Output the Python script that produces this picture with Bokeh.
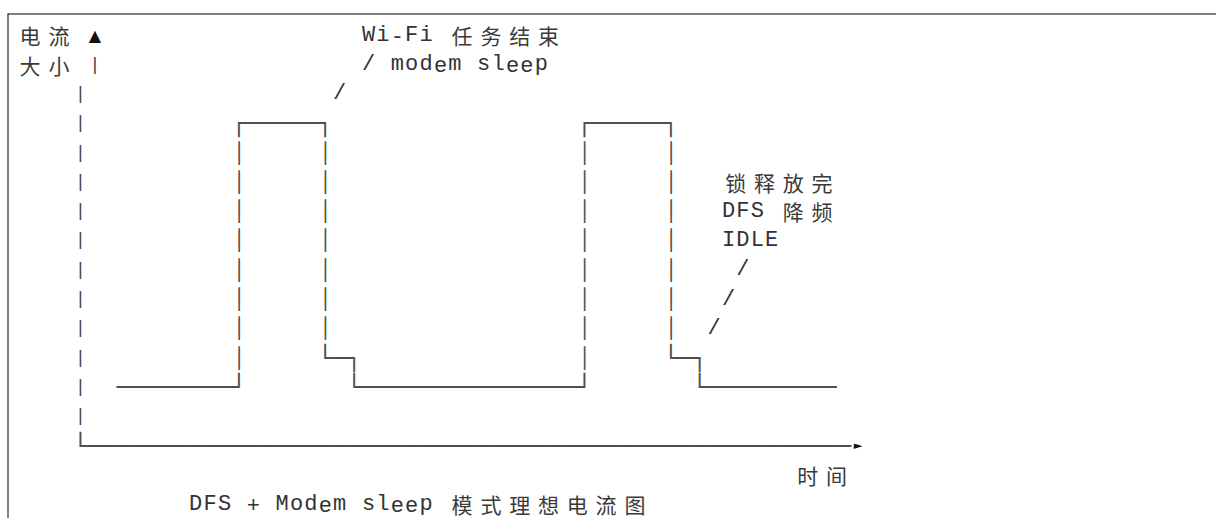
import unicodedata
from bokeh.plotting import figure
from bokeh.models import ColumnDataSource, Range1d, Span
from bokeh.core.properties import value
from bokeh.embed import file_html
from bokeh.resources import INLINE

# ---- the ASCII diagram (CJK characters occupy two columns) ----
art_lines = [
    "电流 ▲" "          " "        " "Wi-Fi 任务结束",
    "大小 |" "          " "        " "/ modem sleep",
    "    |" "          " "       " "/",
    "    |" "          " "┌─────┐" "          " "       " "┌─────┐",
    "    |" "          " "│     │" "          " "       " "│     │",
    "    |" "          " "│     │" "          " "       " "│     │" "   " "锁释放完",
    "    |" "          " "│     │" "          " "       " "│     │" "   " "DFS 降频",
    "    |" "          " "│     │" "          " "       " "│     │" "   " "IDLE",
    "    |" "          " "│     │" "          " "       " "│     │" "    " "/",
    "    |" "          " "│     │" "          " "       " "│     │" "   " "/",
    "    |" "          " "│     │" "          " "       " "│     │" "  " "/",
    "    |" "          " "│     └─┐" "          " "     " "│     └─┐",
    "    |" "  " "────────┘" "       " "└───────────────┘" "       " "└─────────",
    "    |",
    "    └" "──────────" "──────────" "──────────" "──────────" "──────────" "───" "►",
    "          " "          " "          " "          " "          " "    " "时间",
    "          " "  " "DFS + Modem sleep 模式理想电流图",
]

BOX_CHARS = "─┌┐└┘"


def cell_width(ch):
    return 2 if unicodedata.east_asian_width(ch) in ("W", "F") else 1


groups = {k: {"x": [], "y": [], "t": []}
          for k in ("mono", "pipe", "box", "vbar", "cjk", "up", "right")}
for row, line in enumerate(art_lines):
    col = 0
    for ch in line:
        w = cell_width(ch)
        if ch != " ":
            if w == 2:
                key = "cjk"
            elif ch == "│":
                key = "vbar"
            elif ch == "|":
                key = "pipe"
            elif ch in BOX_CHARS:
                key = "box"
            elif ch == "▲":
                key = "up"
            elif ch == "►":
                key = "right"
            else:
                key = "mono"
            groups[key]["x"].append(col + w / 2)
            groups[key]["y"].append(row)
            groups[key]["t"].append(ch)
        col += w

# ---- frame geometry: one unit = one column (x) / one text row (y) ----
COL_PX = 14.4
ROW_PX = 29.3
W, H = 1216, 518
LEFT_PAD, TOP_PAD = 7, 13
x0 = (LEFT_PAD - 15.2) / COL_PX
x1 = x0 + (W - LEFT_PAD) / COL_PX
y_top = (TOP_PAD - 34.8) / ROW_PX
y_bot = y_top + (H - TOP_PAD) / ROW_PX

p = figure(width=W, height=H, output_backend="svg", toolbar_location=None,
           x_axis_type=None, y_axis_type=None,
           x_range=Range1d(x0, x1), y_range=Range1d(y_bot, y_top),
           min_border_left=LEFT_PAD, min_border_right=0, min_border_top=TOP_PAD,
           min_border_bottom=0)
p.grid.visible = False
p.outline_line_color = None
p.background_fill_color = "white"
p.border_fill_color = "white"

styles = {
    "mono": dict(font="Liberation Mono", size="22px", color="#333333"),
    "pipe": dict(font="Liberation Mono", size="18px", color="#444444"),
    "box": dict(font="DejaVu Sans Mono", size="24px", color="#505050"),
    "vbar": dict(font="DejaVu Sans Mono", size="20px", color="#505050"),
    "cjk": dict(font="Noto Sans CJK SC", size="21px", color="#3a3a3a"),
    "up": dict(font="DejaVu Sans", size="16px", color="#111111"),
    "right": dict(font="DejaVu Sans", size="11px", color="#111111"),
}
for key, g in groups.items():
    if not g["t"]:
        continue
    st = styles[key]
    src = ColumnDataSource(data=g)
    p.text(x="x", y="y", text="t", source=src,
           text_font=value(st["font"]), text_font_size=value(st["size"]),
           text_color=st["color"], text_align="center", text_baseline="middle")

p.add_layout(Span(location=y_top, dimension="width", line_color="black", line_width=2))
p.add_layout(Span(location=x0, dimension="height", line_color="black", line_width=2))

open("out.html", "w").write(file_html(p, INLINE))
